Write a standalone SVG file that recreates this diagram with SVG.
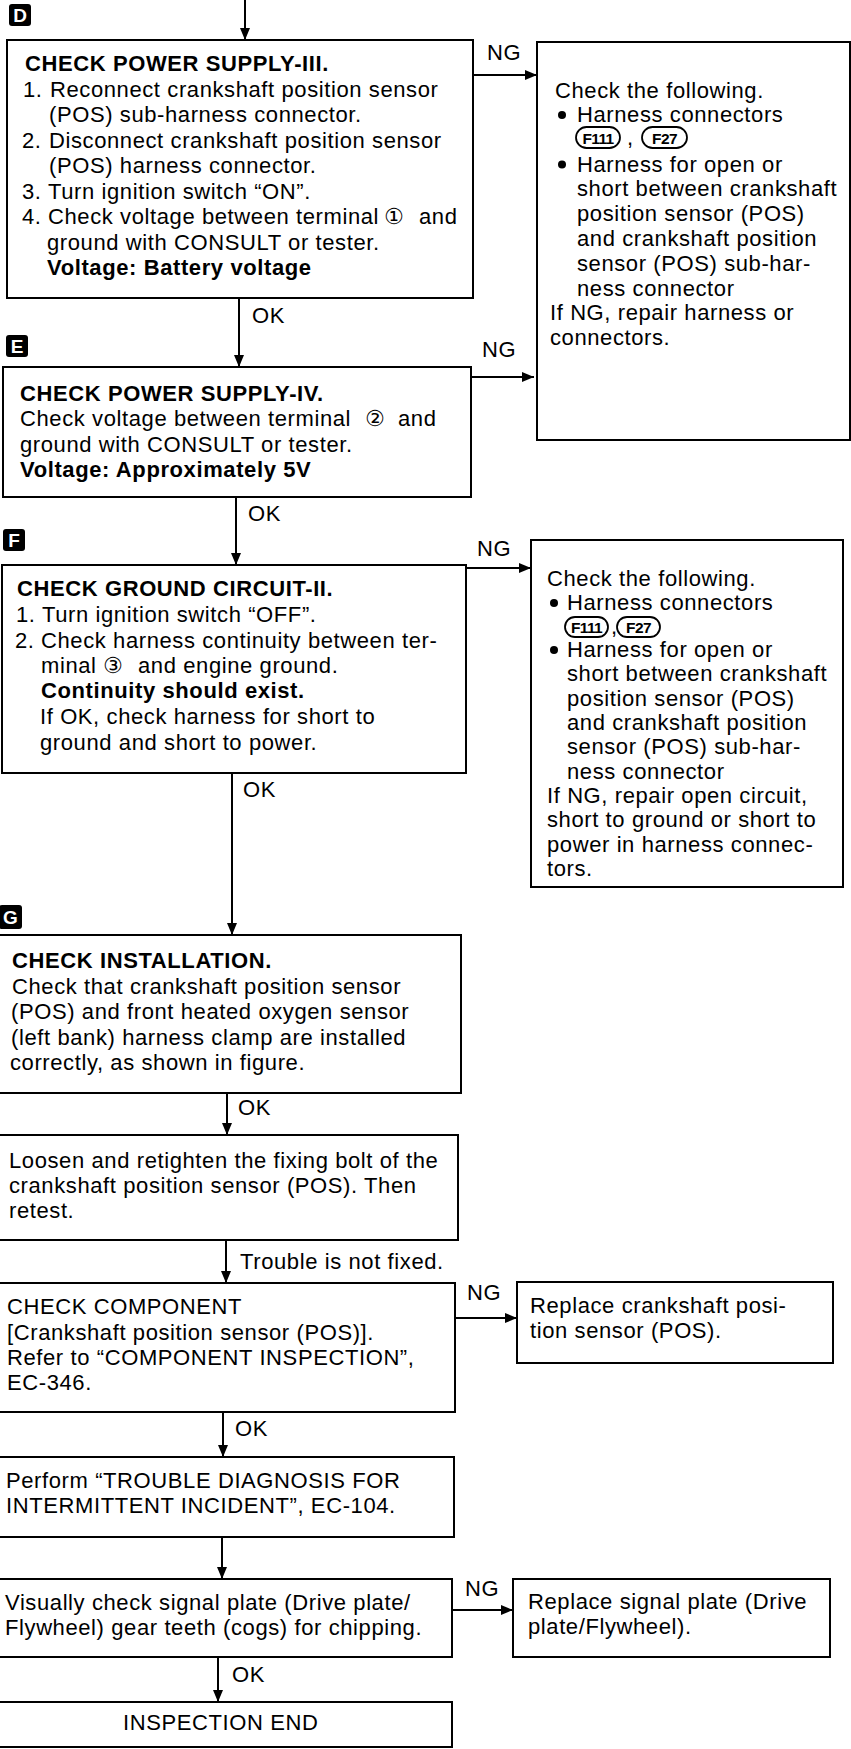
<svg xmlns="http://www.w3.org/2000/svg" width="851" height="1749" viewBox="0 0 851 1749">
<style>
.bg{fill:#fff}
.box{fill:#fff;stroke:#000;stroke-width:2}
.t{font-family:"Liberation Sans",Arial,"DejaVu Sans","Noto Sans CJK JP",sans-serif;font-size:22px;letter-spacing:0.6px;fill:#000}
.b{font-weight:bold}
.lab{fill:#000}
.labt{font-family:"Liberation Sans",Arial,sans-serif;font-size:19px;font-weight:bold;fill:#fff;text-anchor:middle}
#connectors line{stroke:#000;stroke-width:2}
.ov{fill:#fff;stroke:#000;stroke-width:1.8}
.ovt{font-family:"Liberation Sans",Arial,sans-serif;font-size:15.5px;font-weight:bold;letter-spacing:-0.6px;fill:#000;text-anchor:middle}
.blt{fill:#000}
</style>
<defs>
<marker id="ah" viewBox="0 0 12 10" refX="12" refY="5" markerWidth="13" markerHeight="10" markerUnits="userSpaceOnUse" orient="auto"><path d="M0,0 L12,5 L0,10 z" fill="#000"/></marker>
</defs>
<rect class="bg" x="0" y="0" width="851" height="1749"/>

<g id="connectors">
<line x1="245" y1="0" x2="245" y2="40" marker-end="url(#ah)"/>
<line x1="239" y1="298" x2="239" y2="367" marker-end="url(#ah)"/>
<line x1="236" y1="497" x2="236" y2="565" marker-end="url(#ah)"/>
<line x1="232" y1="773" x2="232" y2="935" marker-end="url(#ah)"/>
<line x1="227" y1="1093" x2="227" y2="1135" marker-end="url(#ah)"/>
<line x1="226" y1="1240" x2="226" y2="1283" marker-end="url(#ah)"/>
<line x1="223" y1="1412" x2="223" y2="1457" marker-end="url(#ah)"/>
<line x1="222" y1="1537" x2="222" y2="1579" marker-end="url(#ah)"/>
<line x1="218" y1="1657" x2="218" y2="1702" marker-end="url(#ah)"/>
<line x1="473" y1="75" x2="537" y2="75" marker-end="url(#ah)"/>
<line x1="471" y1="377" x2="534" y2="377" marker-end="url(#ah)"/>
<line x1="466" y1="568" x2="531" y2="568" marker-end="url(#ah)"/>
<line x1="455" y1="1318" x2="517" y2="1318" marker-end="url(#ah)"/>
<line x1="452" y1="1610" x2="513" y2="1610" marker-end="url(#ah)"/>
<text class="t" x="252" y="323">OK</text>
<text class="t" x="248" y="521">OK</text>
<text class="t" x="243" y="797">OK</text>
<text class="t" x="238" y="1115">OK</text>
<text class="t" x="240" y="1269">Trouble is not fixed.</text>
<text class="t" x="235" y="1436">OK</text>
<text class="t" x="232" y="1682">OK</text>
<text class="t" x="487" y="60">NG</text>
<text class="t" x="482" y="357">NG</text>
<text class="t" x="477" y="556">NG</text>
<text class="t" x="467" y="1300">NG</text>
<text class="t" x="465" y="1596">NG</text>
</g>

<g id="label-D"><rect class="lab" x="9" y="4" width="22" height="22" rx="3"/><text class="labt" x="20" y="22">D</text></g>
<g id="label-E"><rect class="lab" x="6" y="335" width="22" height="22" rx="3"/><text class="labt" x="17" y="353">E</text></g>
<g id="label-F"><rect class="lab" x="3" y="529" width="22" height="22" rx="3"/><text class="labt" x="14" y="547">F</text></g>
<g id="label-G"><rect class="lab" x="-1" y="905" width="23" height="24" rx="3"/><text class="labt" x="10.5" y="924">G</text></g>

<g id="node-D">
<rect class="box" x="7" y="40" width="466" height="258"/>
<text class="t b" x="25" y="71">CHECK POWER SUPPLY-III.</text>
<text class="t" x="23" y="96.5">1.</text><text class="t" x="50" y="96.5">Reconnect crankshaft position sensor</text>
<text class="t" x="49" y="122">(POS) sub-harness connector.</text>
<text class="t" x="22" y="147.5">2.</text><text class="t" x="49" y="147.5">Disconnect crankshaft position sensor</text>
<text class="t" x="49" y="173">(POS) harness connector.</text>
<text class="t" x="22" y="198.5">3.</text><text class="t" x="48" y="198.5">Turn ignition switch “ON”.</text>
<text class="t" x="22" y="224">4.</text><text class="t" x="48" y="224">Check voltage between terminal <tspan x="384">①</tspan><tspan x="419">and</tspan></text>
<text class="t" x="47" y="249.5">ground with CONSULT or tester.</text>
<text class="t b" x="47" y="275">Voltage: Battery voltage</text>
</g>

<g id="node-R1">
<rect class="box" x="537" y="42" width="313" height="398"/>
<text class="t" x="555" y="98">Check the following.</text>
<circle class="blt" cx="562" cy="115" r="4"/>
<text class="t" x="577" y="122">Harness connectors</text>
<rect class="ov" x="576" y="127" width="44" height="21" rx="10.5"/><text class="ovt" x="598" y="143.5">F111</text>
<text class="t" x="627" y="145">,</text>
<rect class="ov" x="642" y="127" width="45" height="21" rx="10.5"/><text class="ovt" x="664.5" y="143.5">F27</text>
<circle class="blt" cx="562" cy="164.5" r="4"/>
<text class="t" x="577" y="171.5">Harness for open or</text>
<text class="t" x="577" y="196">short between crankshaft</text>
<text class="t" x="577" y="221">position sensor (POS)</text>
<text class="t" x="577" y="245.5">and crankshaft position</text>
<text class="t" x="577" y="270.5">sensor (POS) sub-har-</text>
<text class="t" x="577" y="295.5">ness connector</text>
<text class="t" x="550" y="320">If NG, repair harness or</text>
<text class="t" x="550" y="345">connectors.</text>
</g>

<g id="node-E">
<rect class="box" x="3" y="367" width="468" height="130"/>
<text class="t b" x="20" y="400.5">CHECK POWER SUPPLY-IV.</text>
<text class="t" x="20" y="426">Check voltage between terminal <tspan x="365">②</tspan><tspan x="398">and</tspan></text>
<text class="t" x="20" y="451.5">ground with CONSULT or tester.</text>
<text class="t b" x="20" y="477">Voltage: Approximately 5V</text>
</g>

<g id="node-F">
<rect class="box" x="2" y="565" width="464" height="208"/>
<text class="t b" x="17" y="596">CHECK GROUND CIRCUIT-II.</text>
<text class="t" x="16" y="622">1.</text><text class="t" x="42" y="622">Turn ignition switch “OFF”.</text>
<text class="t" x="15" y="648">2.</text><text class="t" x="41" y="648">Check harness continuity between ter-</text>
<text class="t" x="41" y="673">minal <tspan x="103">③</tspan><tspan x="138">and engine ground.</tspan></text>
<text class="t b" x="41" y="698">Continuity should exist.</text>
<text class="t" x="40" y="724">If OK, check harness for short to</text>
<text class="t" x="40" y="750">ground and short to power.</text>
</g>

<g id="node-R2">
<rect class="box" x="531" y="540" width="312" height="347"/>
<text class="t" x="547" y="586">Check the following.</text>
<circle class="blt" cx="554" cy="603" r="4"/>
<text class="t" x="567" y="610">Harness connectors</text>
<rect class="ov" x="565" y="617" width="43" height="20" rx="10"/><text class="ovt" x="586.5" y="632.5">F111</text>
<text class="t" x="611" y="634">,</text>
<rect class="ov" x="617" y="617" width="43" height="20" rx="10"/><text class="ovt" x="638.5" y="632.5">F27</text>
<circle class="blt" cx="554" cy="650" r="4"/>
<text class="t" x="567" y="657">Harness for open or</text>
<text class="t" x="567" y="681">short between crankshaft</text>
<text class="t" x="567" y="705.5">position sensor (POS)</text>
<text class="t" x="567" y="730">and crankshaft position</text>
<text class="t" x="567" y="754">sensor (POS) sub-har-</text>
<text class="t" x="567" y="778.5">ness connector</text>
<text class="t" x="547" y="803">If NG, repair open circuit,</text>
<text class="t" x="547" y="827">short to ground or short to</text>
<text class="t" x="547" y="851.5">power in harness connec-</text>
<text class="t" x="547" y="876">tors.</text>
</g>

<g id="node-G">
<rect class="box" x="-2" y="935" width="463" height="158"/>
<text class="t b" x="12" y="968">CHECK INSTALLATION.</text>
<text class="t" x="12" y="994">Check that crankshaft position sensor</text>
<text class="t" x="11" y="1019">(POS) and front heated oxygen sensor</text>
<text class="t" x="11" y="1045">(left bank) harness clamp are installed</text>
<text class="t" x="10" y="1070">correctly, as shown in figure.</text>
</g>

<g id="node-H">
<rect class="box" x="-2" y="1135" width="460" height="105"/>
<text class="t" x="9" y="1168">Loosen and retighten the fixing bolt of the</text>
<text class="t" x="9" y="1193">crankshaft position sensor (POS). Then</text>
<text class="t" x="9" y="1218">retest.</text>
</g>

<g id="node-I">
<rect class="box" x="-2" y="1283" width="457" height="129"/>
<text class="t" x="7" y="1314">CHECK COMPONENT</text>
<text class="t" x="7" y="1340">[Crankshaft position sensor (POS)].</text>
<text class="t" x="7" y="1365">Refer to “COMPONENT INSPECTION”,</text>
<text class="t" x="7" y="1390">EC-346.</text>
</g>

<g id="node-M">
<rect class="box" x="517" y="1282" width="316" height="81"/>
<text class="t" x="530" y="1313">Replace crankshaft posi-</text>
<text class="t" x="530" y="1338">tion sensor (POS).</text>
</g>

<g id="node-J">
<rect class="box" x="-2" y="1457" width="456" height="80"/>
<text class="t" x="6" y="1488">Perform “TROUBLE DIAGNOSIS FOR</text>
<text class="t" x="6" y="1513">INTERMITTENT INCIDENT”, EC-104.</text>
</g>

<g id="node-K">
<rect class="box" x="-2" y="1579" width="454" height="78"/>
<text class="t" x="5" y="1610">Visually check signal plate (Drive plate/</text>
<text class="t" x="5" y="1635">Flywheel) gear teeth (cogs) for chipping.</text>
</g>

<g id="node-N">
<rect class="box" x="513" y="1579" width="317" height="78"/>
<text class="t" x="528" y="1609">Replace signal plate (Drive</text>
<text class="t" x="528" y="1634">plate/Flywheel).</text>
</g>

<g id="node-L">
<rect class="box" x="-2" y="1702" width="454" height="45"/>
<text class="t" x="123" y="1730">INSPECTION END</text>
</g>
</svg>
